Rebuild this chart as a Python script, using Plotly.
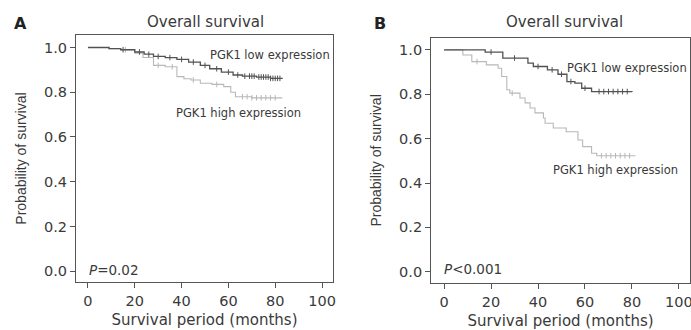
import plotly.graph_objects as go

# ---------------- data ----------------
a_low_t = [0, 9, 14, 20, 24, 28, 33, 38, 43, 48, 52, 57, 62, 66, 72, 78, 83]
a_low_s = [1.0, 0.995, 0.99, 0.98, 0.97, 0.96, 0.955, 0.947, 0.935, 0.92, 0.905, 0.89, 0.877, 0.872, 0.868, 0.862, 0.86]
a_high_t = [0, 9, 14, 20, 23.5, 28, 33, 38, 41, 44, 48, 53, 58, 61, 63, 70, 83]
a_high_s = [1.0, 0.995, 0.99, 0.975, 0.955, 0.92, 0.914, 0.87, 0.86, 0.855, 0.84, 0.835, 0.825, 0.8, 0.78, 0.775, 0.775]

b_low_t = [0, 17.5, 25, 35.7, 38, 44, 48.5, 52.3, 55.7, 58.6, 62.8, 80]
b_low_s = [1.0, 0.99, 0.963, 0.94, 0.925, 0.91, 0.89, 0.857, 0.85, 0.827, 0.812, 0.81]
b_high_t = [0, 8, 11.8, 18, 23, 24.5, 26.7, 28, 32.3, 34.5, 36.6, 38.7, 42.3, 43, 46.5, 52, 57, 59, 62.8, 65, 81.5]
b_high_s = [1.0, 0.977, 0.947, 0.932, 0.917, 0.88, 0.82, 0.805, 0.783, 0.761, 0.738, 0.716, 0.693, 0.669, 0.648, 0.631, 0.594, 0.564, 0.534, 0.523, 0.523]

a_low_cens = [15, 22, 26, 30, 35, 40, 45, 50, 55, 60, 64, 67, 69, 70, 71, 73, 74, 75, 76, 77, 78, 79, 80, 81, 82]
a_high_cens = [16, 30, 36, 45, 55, 66, 68, 70, 72, 74, 76, 78, 80]
b_low_cens = [20, 30, 40, 46, 50, 54, 60, 66, 68, 70, 72, 74, 76, 78]
b_high_cens = [14, 29, 67, 69, 71, 73, 75, 77, 79]

x_ticks = [0, 20, 40, 60, 80, 100]
y_ticks = [0.0, 0.2, 0.4, 0.6, 0.8, 1.0]
y_tick_text = ["0.0", "0.2", "0.4", "0.6", "0.8", "1.0"]

panel_letters = ["A", "B"]
panel_title = "Overall survival"
p_texts = ["<i>P</i>=0.02", "<i>P</i><0.001"]
low_label = "PGK1 low expression"
high_label = "PGK1 high expression"

LOW_C = "#525252"
HIGH_C = "#b8b8b8"
TXT = "#3a3a3a"
WIDE = "DejaVu Sans, Verdana, sans-serif"
NARROW = "Liberation Sans, Arial, sans-serif"


def step_at(ts, ss, t):
    v = ss[0]
    for ti, si in zip(ts, ss):
        if ti <= t:
            v = si
    return v


fig = go.Figure()

panels = [
    dict(xa="x", ya="y", low=(a_low_t, a_low_s, a_low_cens), high=(a_high_t, a_high_s, a_high_cens)),
    dict(xa="x2", ya="y2", low=(b_low_t, b_low_s, b_low_cens), high=(b_high_t, b_high_s, b_high_cens)),
]

for p in panels:
    for key, col, w in (("high", HIGH_C, 1.1), ("low", LOW_C, 1.3)):
        ts, ss, cens = p[key]
        fig.add_trace(go.Scatter(x=ts, y=ss, mode="lines", line=dict(color=col, width=w, shape="hv"),
                                 xaxis=p["xa"], yaxis=p["ya"], showlegend=False, hoverinfo="skip"))
        fig.add_trace(go.Scatter(x=cens, y=[step_at(ts, ss, c) for c in cens], mode="markers",
                                 marker=dict(symbol="line-ns-open", size=4, color=col, line=dict(color=col, width=1)),
                                 xaxis=p["xa"], yaxis=p["ya"], showlegend=False, hoverinfo="skip"))

axis_common = dict(showgrid=False, zeroline=False, showline=True, linecolor="#555", linewidth=1.2,
                   mirror=True, ticks="outside", ticklen=5, tickcolor="#555", automargin=False,
                   ticklabeloverflow="allow",
                   tickfont=dict(family=WIDE, size=14.5, color=TXT))

xt = dict(text="Survival period (months)", font=dict(size=15, color=TXT, family=WIDE), standoff=6)
yt = dict(text="Probability of survival", font=dict(size=14, color=TXT, family=NARROW), standoff=14)

fig.update_layout(
    width=691, height=330,
    margin=dict(l=0, r=0, t=0, b=0),
    paper_bgcolor="white", plot_bgcolor="white",
    font=dict(family=WIDE, color=TXT),
    xaxis=dict(domain=[0.110, 0.482], range=[-5.1, 104.7], tickvals=x_ticks, anchor="y", title=xt, **axis_common),
    yaxis=dict(domain=[0.145, 0.894], range=[-0.049, 1.056], tickvals=y_ticks, ticktext=y_tick_text, anchor="x",
               title=yt, **axis_common),
    xaxis2=dict(domain=[0.624, 0.9985], range=[-5.5, 104.7], tickvals=x_ticks, anchor="y2", title=xt, **axis_common),
    yaxis2=dict(domain=[0.142, 0.886], range=[-0.051, 1.055], tickvals=y_ticks, ticktext=y_tick_text, anchor="x2",
                title=yt, **axis_common),
)

ann = []
pp = dict(xref="paper", yref="paper", showarrow=False, xanchor="center", yanchor="middle")
ann.append(dict(text="<b>" + panel_letters[0] + "</b>", x=20 / 691, y=1 - 23 / 330,
                font=dict(size=16, color="#222", family=WIDE), **pp))
ann.append(dict(text="<b>" + panel_letters[1] + "</b>", x=380 / 691, y=1 - 23 / 330,
                font=dict(size=16, color="#222", family=WIDE), **pp))
ann.append(dict(text=panel_title, x=205 / 691, y=1 - 22 / 330, font=dict(size=15, color=TXT, family=WIDE), **pp))
ann.append(dict(text=panel_title, x=564 / 691, y=1 - 22 / 330, font=dict(size=15, color=TXT, family=WIDE), **pp))
lab_font = dict(size=11.5, color=TXT, family=WIDE)
dd = dict(showarrow=False, yanchor="middle")
ann.append(dict(text=low_label, x=77.8, y=0.966, xref="x", yref="y", font=lab_font, **dd))
ann.append(dict(text=high_label, x=64.3, y=0.707, xref="x", yref="y", font=lab_font, **dd))
ann.append(dict(text=low_label, x=77.9, y=0.92, xref="x2", yref="y2", font=lab_font, **dd))
ann.append(dict(text=high_label, x=73.0, y=0.459, xref="x2", yref="y2", font=lab_font, **dd))
ann.append(dict(text=p_texts[0], x=-0.5, y=0.005, xref="x", yref="y", xanchor="left",
                font=dict(size=13.5, color=TXT, family=WIDE), **dd))
ann.append(dict(text=p_texts[1], x=-0.8, y=0.012, xref="x2", yref="y2", xanchor="left",
                font=dict(size=13.5, color=TXT, family=WIDE), **dd))
fig.update_layout(annotations=ann)

fig.write_html("out.html", config={"displayModeBar": False},
               post_script="document.body.style.margin='0';document.body.style.padding='0';")
